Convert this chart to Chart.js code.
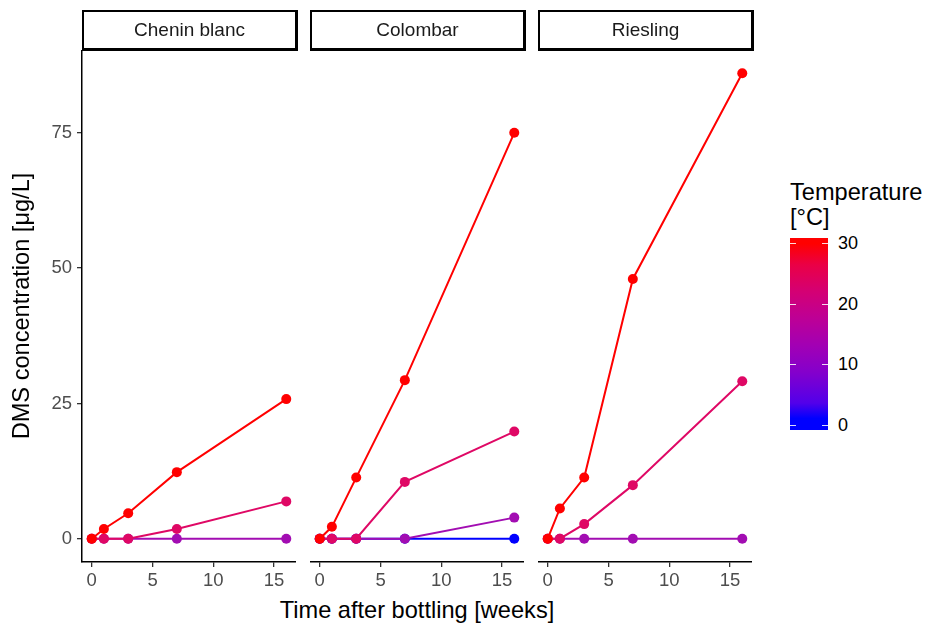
<!DOCTYPE html>
<html>
<head>
<meta charset="utf-8">
<script src="https://cdn.jsdelivr.net/npm/chart.js@4.4.1/dist/chart.umd.min.js"></script>
<style>
body { margin: 0; background: #fff; font-family: "Liberation Sans", Arial, sans-serif; }
#wrap { position: relative; width: 934px; height: 628px; overflow: hidden; }
canvas { position: absolute; top: 50px; }
.strip { position: absolute; top: 10px; height: 41px; width: 216px; box-sizing: border-box;
  border: 2px solid #000; border-right-width: 3px; border-bottom-width: 3px;
  display: flex; align-items: center; justify-content: center; font-size: 19px; color: #1a1a1a; }
#xtitle { position: absolute; left: 82px; width: 670px; top: 598px; line-height: 24px;
  text-align: center; font-size: 23.6px; color: #000; }
#ltitle { position: absolute; left: 790px; top: 180px; font-size: 23.6px; line-height: 24.5px; color: #000; }
#bar { position: absolute; left: 790px; top: 238px; width: 38px; height: 192px;
  background: linear-gradient(to top, #0000ff 0%, #0000ff 6%, #5200ea 14%, #8400cc 30%, #a200b4 44%,
    #bd0096 58%, #d40074 72%, #ea0046 86%, #ff0000 97%, #ff0000 100%); }
.btick { position: absolute; height: 1px; width: 6px; background: rgba(255,255,255,0.85); }
.blab { position: absolute; left: 838px; font-size: 18px; line-height: 20px; color: #000; }
</style>
</head>
<body>
<div id="wrap">
  <canvas id="p0" width="296" height="542" style="left:0px"></canvas>
  <canvas id="p1" width="214" height="542" style="left:310px"></canvas>
  <canvas id="p2" width="214" height="542" style="left:538px"></canvas>
  <div id="xtitle">Time after bottling [weeks]</div>
  <div id="ltitle">Temperature<br>[°C]</div>
  <div id="bar"></div>
</div>
<script>
// facets
let varieties = ['Chenin blanc', 'Colombar', 'Riesling'];
let weeks = [0, 1, 3, 7, 16];

// storage temperature of each series, and its colour on the scale
let temps = [30, 20, 10, 0];
let tempColours = ['#ff0000', '#df0865', '#a20db2', '#0000ff'];

// DMS concentration (ug/L) per variety, per temperature
let cheninDMS = [
	[0, 1.8, 4.7, 12.3, 25.8],
	[0, 0, 0, 1.8, 6.9],
	[0, 0, 0, 0, 0]
];
let colombarDMS = [
	[0, 2.2, 11.3, 29.3, 75.0],
	[0, 0, 0, 10.5, 19.8],
	[0, 0, 0, 0, 3.9],
	[0, 0, 0, 0, 0]
];
let rieslingDMS = [
	[0, 5.6, 11.3, 48.0, 86.0],
	[0, 0, 2.7, 9.9, 29.1],
	[0, 0, 0, 0, 0]
];
let allDMS = [cheninDMS, colombarDMS, rieslingDMS];

let yTicks = [0, 25, 50, 75];
let xTicks = [0, 5, 10, 15];
let legendTicks = [0, 10, 20, 30];

let panelLeft = [82, 310, 538];
let yMin = -4.3, yMax = 90.3;
let xMin = -0.8, xMax = 16.8;

function makeDatasets(series) {
	let sets = [];
	for (let i = 0; i < series.length; i++) {
		let pts = [];
		for (let j = 0; j < weeks.length; j++) {
			pts.push({x: weeks[j], y: series[i][j]});
		}
		sets.push({
			label: temps[i] + ' °C',
			data: pts,
			borderColor: tempColours[i],
			backgroundColor: tempColours[i],
			pointBackgroundColor: tempColours[i],
			pointBorderWidth: 0,
			pointRadius: 5,
			borderWidth: 2,
			tension: 0,
			clip: false
		});
	}
	return sets;
}

function makeChart(p) {
	let first = p == 0;
	new Chart(document.getElementById('p' + p), {
		type: 'line',
		data: { datasets: makeDatasets(allDMS[p]) },
		options: {
			responsive: false,
			animation: false,
			layout: { padding: 0, autoPadding: false },
			plugins: { legend: { display: false }, tooltip: { enabled: false } },
			scales: {
				x: {
					type: 'linear',
					min: xMin, max: xMax,
					afterBuildTicks: s => { s.ticks = xTicks.map(v => ({value: v})); },
					afterFit: s => { s.height = 30; s.paddingLeft = 0; s.paddingRight = 0; },
					grid: { drawOnChartArea: false, drawTicks: true, tickLength: 5, color: '#333', lineWidth: 1.3 },
					border: { color: '#000', width: 1.5 },
					ticks: { color: '#4d4d4d', padding: 3, font: { family: 'Liberation Sans', size: 18.5 }, maxRotation: 0 }
				},
				y: {
					type: 'linear',
					display: first,
					min: yMin, max: yMax,
					afterBuildTicks: s => { s.ticks = yTicks.map(v => ({value: v})); },
					afterFit: s => { if (first) s.width = 82; s.paddingTop = 0; s.paddingBottom = 0; },
					grid: { drawOnChartArea: false, drawTicks: true, tickLength: 5, color: '#333', lineWidth: 1.3 },
					border: { color: '#000', width: 1.5 },
					ticks: { color: '#4d4d4d', padding: 5, font: { family: 'Liberation Sans', size: 18.5 } },
					title: {
						display: true,
						text: 'DMS concentration [μg/L]',
						color: '#000',
						font: { family: 'Liberation Sans', size: 23.6 },
						padding: { top: 8, bottom: 0 }
					}
				}
			}
		}
	});
}

let wrap = document.getElementById('wrap');
for (let p = 0; p < varieties.length; p++) {
	let strip = document.createElement('div');
	strip.className = 'strip';
	strip.style.left = panelLeft[p] + 'px';
	strip.textContent = varieties[p];
	wrap.appendChild(strip);
	makeChart(p);
}

// colour bar ticks and labels
let barTop = 238, barH = 192, legMin = -0.82, legMax = 30.82;
legendTicks.forEach(t => {
	let y = barTop + (legMax - t) / (legMax - legMin) * barH;
	[790, 822].forEach(x => {
		let tk = document.createElement('div');
		tk.className = 'btick';
		tk.style.left = x + 'px';
		tk.style.top = Math.round(y) + 'px';
		wrap.appendChild(tk);
	});
	let lab = document.createElement('div');
	lab.className = 'blab';
	lab.style.top = (y - 10) + 'px';
	lab.textContent = t;
	wrap.appendChild(lab);
});
</script>
</body>
</html>
